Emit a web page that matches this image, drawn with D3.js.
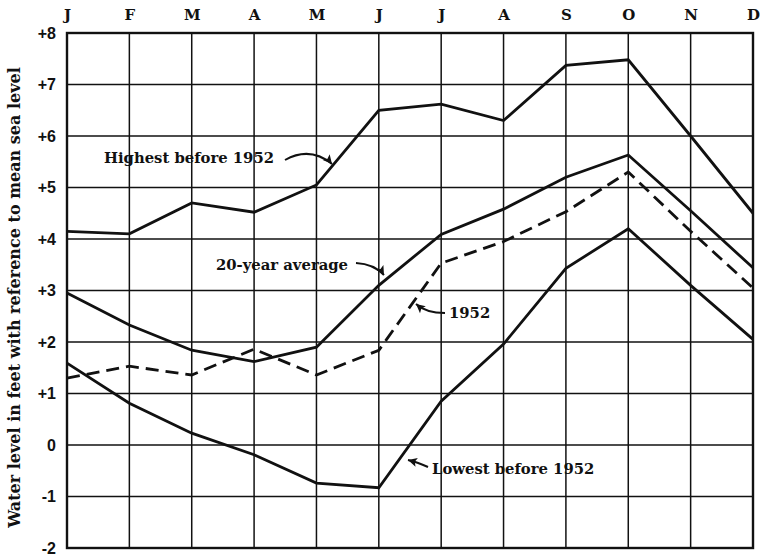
<!DOCTYPE html>
<html>
<head>
<meta charset="utf-8">
<script src="https://cdn.jsdelivr.net/npm/d3@7"></script>
<style>
html,body{margin:0;padding:0;background:#fff;}
svg{display:block;}
</style>
</head>
<body>
<svg id="chart" width="764" height="560"></svg>
<script>
const months = ["J","F","M","A","M","J","J","A","S","O","N","D"];
const yTicks = [-2,-1,0,1,2,3,4,5,6,7,8];
const yTickLabels = ["-2","-1","0","+1","+2","+3","+4","+5","+6","+7","+8"];
const highest = [4.15, 4.10, 4.70, 4.52, 5.05, 6.50, 6.62, 6.30, 7.37, 7.48, 6.00, 4.50];
const average = [2.95, 2.33, 1.84, 1.62, 1.90, 3.10, 4.09, 4.58, 5.20, 5.63, 4.55, 3.44];
const year1952 = [1.30, 1.53, 1.36, 1.86, 1.36, 1.84, 3.53, 3.95, 4.53, 5.30, 4.15, 3.05];
const lowest = [1.59, 0.81, 0.23, -0.19, -0.74, -0.83, 0.85, 1.96, 3.43, 4.20, 3.10, 2.05];
const yTitle = "Water level in feet with reference to mean sea level";
const labels = ["Highest before 1952", "20-year average", "1952", "Lowest before 1952"];

const svg = d3.select("#chart");
const m = {left: 67, right: 753, top: 33, bottom: 548};
const x = d3.scalePoint().domain(d3.range(12)).range([m.left, m.right]);
const y = d3.scaleLinear().domain([-2, 8]).range([m.bottom, m.top]);

const serif = "'DejaVu Serif', serif";
const sans = "'Liberation Sans', Arial, sans-serif";

// grid
const g = svg.append("g");
g.selectAll("line.v").data(d3.range(12)).join("line")
  .attr("x1", d => x(d)).attr("x2", d => x(d))
  .attr("y1", m.top).attr("y2", m.bottom)
  .attr("stroke", "#111").attr("stroke-width", 1.5);
g.selectAll("line.h").data(yTicks).join("line")
  .attr("x1", m.left).attr("x2", m.right)
  .attr("y1", d => y(d)).attr("y2", d => y(d))
  .attr("stroke", "#111").attr("stroke-width", 1.5);
g.append("rect").attr("x", m.left).attr("y", m.top)
  .attr("width", m.right - m.left).attr("height", m.bottom - m.top)
  .attr("fill", "none").attr("stroke", "#111").attr("stroke-width", 2.4);

// axes labels via d3 axes
const yAxis = d3.axisLeft(y).tickValues(yTicks)
  .tickFormat((d, i) => yTickLabels[i]).tickSize(0).tickPadding(11);
const ya = svg.append("g").attr("transform", `translate(${m.left},0)`).call(yAxis);
ya.select(".domain").remove();
ya.selectAll("text").attr("font-family", sans).attr("font-weight", "bold")
  .attr("font-size", 16).attr("fill", "#111");

const xAxis = d3.axisTop(x).tickFormat(i => months[i]).tickSize(0).tickPadding(13);
const xa = svg.append("g").attr("transform", `translate(0,${m.top})`).call(xAxis);
xa.select(".domain").remove();
xa.selectAll("text").attr("font-family", serif).attr("font-weight", "bold")
  .attr("font-size", 15).attr("fill", "#111");

svg.append("text")
  .attr("transform", `translate(20,${(m.top + m.bottom) / 2 + 7}) rotate(-90)`)
  .attr("text-anchor", "middle").attr("font-family", serif).attr("font-weight", "bold")
  .attr("font-size", 16).attr("fill", "#111").text(yTitle);

// lines
const line = d3.line().x((d, i) => x(i)).y(d => y(d));
const series = [
  {v: highest, dash: null},
  {v: average, dash: null},
  {v: year1952, dash: "13,7"},
  {v: lowest, dash: null}
];
svg.selectAll("path.series").data(series).join("path")
  .attr("d", d => line(d.v)).attr("fill", "none")
  .attr("stroke", "#111").attr("stroke-width", 2.8)
  .attr("stroke-linejoin", "miter")
  .attr("stroke-dasharray", d => d.dash);

// annotations
const ann = [
  {t: labels[0], tx: 104, ty: 163, path: "M285,160 Q310,146 332,164", tip: [332,164], ang: 50},
  {t: labels[1], tx: 216, ty: 270, path: "M356,263 Q374,264 384,275", tip: [384,275], ang: 60},
  {t: labels[2], tx: 449, ty: 318, path: "M445,313 Q426,313 416,304", tip: [416,304], ang: 220},
  {t: labels[3], tx: 432, ty: 474, path: "M428,467 Q417,462 408,460", tip: [408,460], ang: 195}
];
ann.forEach(a => {
  svg.append("text").attr("x", a.tx).attr("y", a.ty)
    .attr("font-family", serif).attr("font-weight", "bold")
    .attr("font-size", 14.8).attr("fill", "#111").text(a.t);
  svg.append("path").attr("d", a.path).attr("fill", "none")
    .attr("stroke", "#111").attr("stroke-width", 2);
  const [tx, ty] = a.tip;
  svg.append("path")
    .attr("d", "M0,0 L-9,-4.5 L-7,0 L-9,4.5 Z")
    .attr("transform", `translate(${tx},${ty}) rotate(${a.ang})`)
    .attr("fill", "#111");
});
</script>
</body>
</html>
